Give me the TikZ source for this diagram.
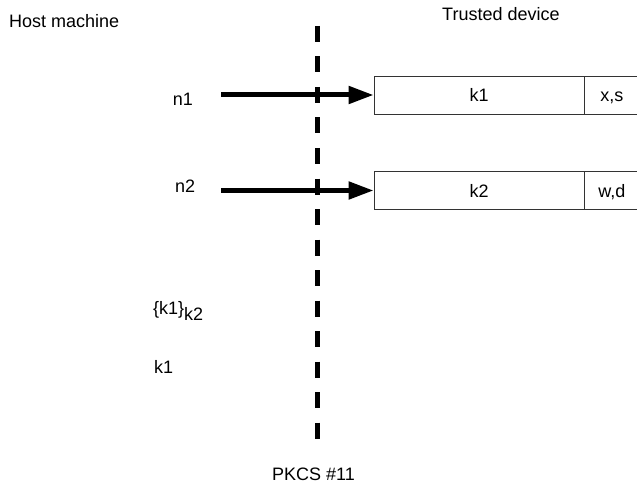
\documentclass[tikz,border=0pt]{standalone}
\usepackage{fontspec}
\setmainfont{Liberation Sans}
\usetikzlibrary{arrows.meta}
\tikzset{
  lbl/.style={anchor=base west, inner sep=0pt, font=\fontsize{18}{20}\selectfont},
  keybox/.style={draw=black!80, line width=0.8pt, rectangle, inner sep=0pt,
    minimum height=38pt, text height=18pt, text depth=4pt, font=\fontsize{18}{20}\selectfont},
  bigarrow/.style={line width=5pt, -{Triangle[length=25pt,width=17pt]}},
  divider/.style={line width=5pt, dash pattern=on 16pt off 14.5pt}
}
\begin{document}
\begin{tikzpicture}[x=1pt,y=-1pt]
\useasboundingbox (0,0) rectangle (637,484);
\clip (0,0) rectangle (637,484);
% headers
\node[lbl] (host) at (9,28) {Host machine};
\node[lbl] (trusted) at (442,21) {Trusted device};
% divider
\coordinate (dtop) at (317.5,26);
\coordinate (dbot) at (317.5,438.5);
\draw[divider] (dtop) -- (dbot);
\node[lbl] (pkcs) at (272,480.5) {PKCS \#11};
% key boxes
\node[keybox, minimum width=210pt] (key1) at (479,95) {k1};
\node[keybox, minimum width=54pt, anchor=west] (flag1) at (key1.east) {x,s};
\node[keybox, minimum width=210pt] (key2) at (479,190.5) {k2};
\node[keybox, minimum width=54pt, anchor=west] (flag2) at (key2.east) {w,d};
% arrows
\node[lbl] (n1) at (172.7,105.7) {n1};
\node[lbl] (n2) at (175,192.3) {n2};
\coordinate (a1) at (221,95);
\coordinate (a2) at (221,190.5);
\draw[bigarrow] (a1) -- (key1.west);
\draw[bigarrow] (a2) -- (key2.west);
% host-side items
\node[lbl] (wrapped) at (153,314) {\{k1\}\raisebox{-6.5pt}{k2}};
\node[lbl] (k1host) at (154,373.3) {k1};
\end{tikzpicture}
\end{document}
